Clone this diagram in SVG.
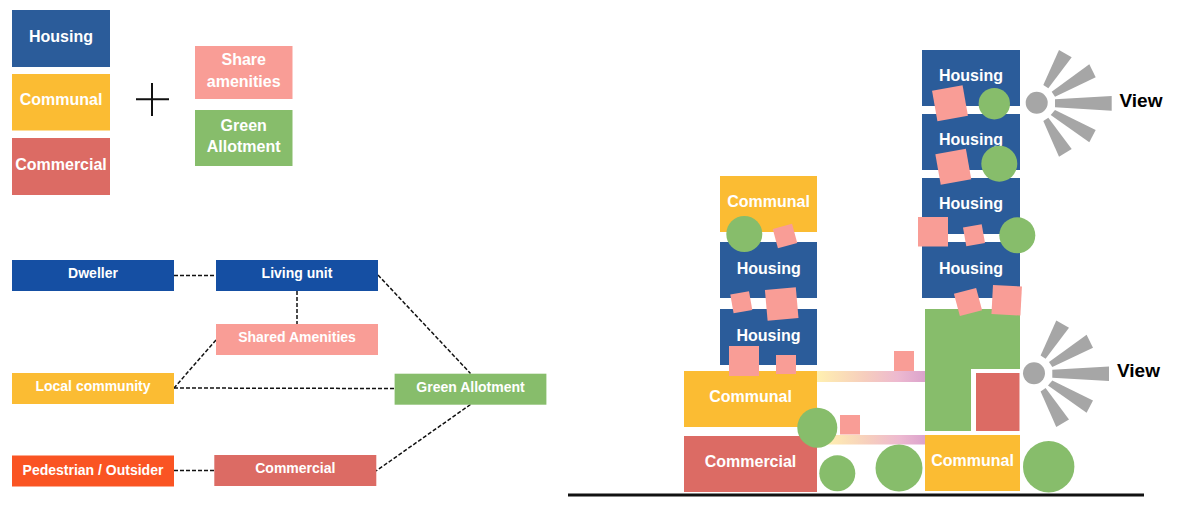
<svg xmlns="http://www.w3.org/2000/svg" width="1182" height="518" viewBox="0 0 1182 518">
<style>
text{font-family:"Liberation Sans",Arial,sans-serif;font-weight:700;text-anchor:middle;fill:#fff}
.t{font-size:16px}.s{font-size:14px}
.v{font-size:19px;fill:#000}
.hou{fill:#2B5C9A}.com{fill:#FBBC33}.cml{fill:#DC6B64}.pnk{fill:#F99D96}.grn{fill:#87BD6B}
.dbl{fill:#154FA3}.org{fill:#FA5423}.ray{fill:#A6A6A6}
.dash{fill:none;stroke:#111;stroke-width:1.500;stroke-dasharray:4 2}
</style>
<defs>
<linearGradient id="bar" x1="0" y1="0" x2="1" y2="0">
<stop offset="0" stop-color="#FFF0B0"/><stop offset=".45" stop-color="#F6CDBE"/><stop offset=".75" stop-color="#EDB9D0"/><stop offset="1" stop-color="#DBA3CC"/>
</linearGradient>
<g id="rays" class="ray">
<circle cx="1036.700" cy="102.800" r="11"/>
<polygon points="1055,99.300 1111.700,96 1111.700,110.700 1055,107.300"/>
<polygon points="1051.700,91.700 1089.300,64.300 1095.700,77.300 1055,96.700"/>
<polygon points="1043.300,85 1059,50 1071.700,57.300 1048.300,88.300"/>
<polygon points="1055,110 1095.700,130 1089.300,142.300 1050.700,115"/>
<polygon points="1048.300,117.700 1071.700,149 1059,156.700 1043.300,121"/>
</g>
</defs>

<g id="key-housing"><rect class="hou" x="12" y="10" width="98" height="57"/><text class="t" x="61" y="41.700">Housing</text></g>
<g id="key-communal"><rect class="com" x="12" y="74" width="98" height="56.500"/><text class="t" x="61" y="105">Communal</text></g>
<g id="key-commercial"><rect class="cml" x="12" y="138" width="98" height="57"/><text class="t" x="61" y="169.500">Commercial</text></g>
<g id="key-plus"><path d="M136 99.300H169M152 83V116" fill="none" stroke="#111" stroke-width="2"/></g>
<g id="key-share"><rect class="pnk" x="195" y="46" width="97.500" height="53"/><text class="t" x="243.700" y="65">Share</text><text class="t" x="243.700" y="87">amenities</text></g>
<g id="key-green"><rect class="grn" x="195" y="110" width="97.500" height="56"/><text class="t" x="243.700" y="130.700">Green</text><text class="t" x="243.700" y="152">Allotment</text></g>

<g id="connectors">
<path class="dash" d="M174 275.500H216"/>
<path class="dash" d="M297 291V324"/>
<path class="dash" d="M216 340L174 388"/>
<path class="dash" d="M174 388L395 388.500"/>
<path class="dash" d="M378 275L470.500 373.500"/>
<path class="dash" d="M470.500 404.500L376 471"/>
<path class="dash" d="M174 470.500H214"/>
</g>
<g id="n-dweller"><rect class="dbl" x="12" y="260" width="162" height="31"/><text class="s" x="93" y="278">Dweller</text></g>
<g id="n-living"><rect class="dbl" x="216" y="260" width="162" height="31"/><text class="s" x="297" y="278">Living unit</text></g>
<g id="n-shared"><rect class="pnk" x="216" y="324" width="162" height="31"/><text class="s" x="297" y="341.700">Shared Amenities</text></g>
<g id="n-local"><rect class="com" x="12" y="373" width="162" height="31"/><text class="s" x="93" y="391">Local community</text></g>
<g id="n-allot"><rect class="grn" x="394.600" y="373.700" width="151.800" height="31"/><text class="s" x="470.500" y="391.700">Green Allotment</text></g>
<g id="n-ped"><rect class="org" x="12" y="455.500" width="162" height="31"/><text class="s" x="93" y="474.500">Pedestrian / Outsider</text></g>
<g id="n-comm"><rect class="cml" x="214.300" y="455" width="162" height="31"/><text class="s" x="295.300" y="473">Commercial</text></g>

<g id="ground"><path d="M568 495H1144" stroke="#111" stroke-width="3" fill="none"/></g>

<g id="bridges">
<rect x="817" y="371" width="108" height="11" fill="url(#bar)"/>
<rect x="825" y="435" width="100" height="9.500" fill="url(#bar)"/>
</g>

<g id="left-tower">
<rect class="com" x="720" y="176" width="97" height="56"/><text class="t" x="768.500" y="206.700">Communal</text>
<rect class="hou" x="720" y="242" width="97" height="56"/><text class="t" x="768.700" y="273.500">Housing</text>
<rect class="hou" x="720" y="309" width="97" height="56"/><text class="t" x="768.500" y="341">Housing</text>
<rect class="com" x="684" y="371" width="133" height="56"/><text class="t" x="750.500" y="401.700">Communal</text>
<rect class="cml" x="684" y="436" width="133" height="56"/><text class="t" x="750.500" y="466.700">Commercial</text>
</g>
<g id="right-tower">
<rect class="hou" x="922" y="50" width="98" height="56"/><text class="t" x="971" y="81">Housing</text>
<rect class="hou" x="922" y="114" width="98" height="56"/><text class="t" x="971" y="145">Housing</text>
<rect class="hou" x="922" y="178" width="98" height="56"/><text class="t" x="971" y="209">Housing</text>
<rect class="hou" x="922" y="242" width="98" height="56"/><text class="t" x="971" y="273.500">Housing</text>
<path class="grn" d="M925 309H1020V369H971V431H925Z"/>
<rect class="cml" x="976" y="373" width="43.500" height="58"/>
<rect class="com" x="925" y="435" width="95" height="56"/><text class="t" x="972.500" y="465.700">Communal</text>
</g>

<g id="amenities" class="pnk">
<rect x="894" y="351" width="20" height="20"/>
<rect x="840" y="415" width="20" height="19.500"/>
<rect x="729" y="346" width="30" height="30"/>
<rect x="776" y="355" width="20" height="19"/>
<rect x="-10" y="-10" width="20" height="20" transform="translate(785 236) rotate(-15)"/>
<rect x="-9.500" y="-9.500" width="19" height="19" transform="translate(741.300 302.300) rotate(-10)"/>
<rect x="-15.500" y="-15.500" width="31" height="31" transform="translate(781.700 304) rotate(-5)"/>
<rect x="-15.500" y="-15.500" width="31" height="31" transform="translate(950 103.300) rotate(-10)"/>
<rect x="-15.500" y="-15.500" width="31" height="31" transform="translate(953.300 166.700) rotate(-10)"/>
<rect x="918" y="217" width="30" height="29.500"/>
<rect x="-9.500" y="-9.500" width="19" height="19" transform="translate(974 235.300) rotate(-10)"/>
<rect x="-11.500" y="-11.500" width="23" height="23" transform="translate(968 302) rotate(-15)"/>
<rect x="-14.500" y="-14.500" width="29" height="29" transform="translate(1006.700 300.300) rotate(3)"/>
</g>
<g id="greens" class="grn">
<circle cx="744.300" cy="234" r="18"/>
<circle cx="817.300" cy="427.700" r="20"/>
<circle cx="837.300" cy="473.300" r="18"/>
<circle cx="899" cy="468" r="23.500"/>
<circle cx="1048.700" cy="466.700" r="25.700"/>
<circle cx="994.300" cy="103.700" r="15.700"/>
<circle cx="999.300" cy="163.700" r="18"/>
<circle cx="1017.300" cy="235.300" r="18"/>
</g>
<g id="view-1"><use href="#rays"/><text class="v" x="1141" y="107">View</text></g>
<g id="view-2"><use href="#rays" transform="translate(-2.700 270.400)"/><text class="v" x="1138.500" y="377">View</text></g>
</svg>
